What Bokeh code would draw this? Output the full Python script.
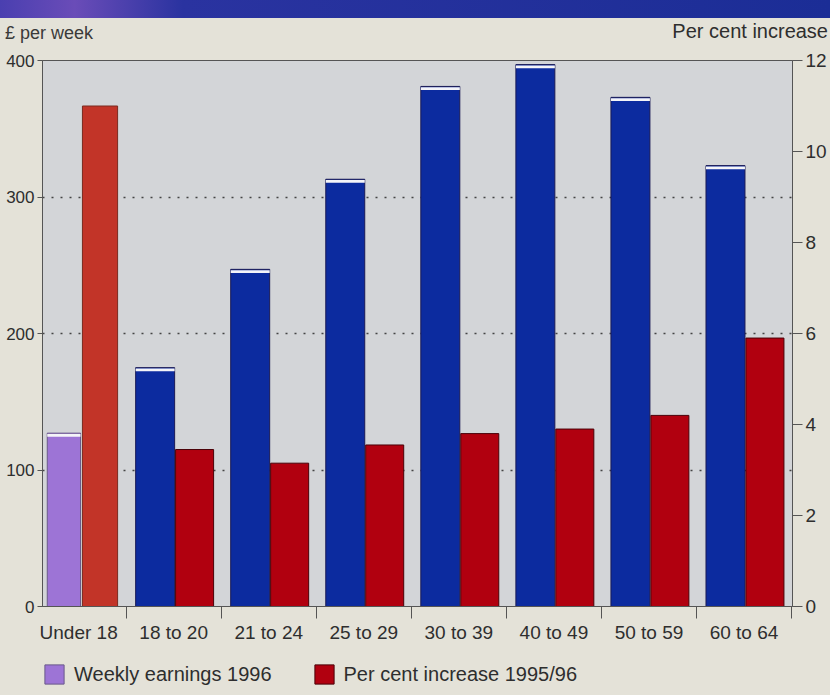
from bokeh.plotting import figure
from bokeh.models import (Range1d, LinearAxis, FixedTicker, Legend, LegendItem,
                          ColumnDataSource, Div)
from bokeh.layouts import column
from bokeh.embed import file_html
from bokeh.resources import INLINE

# ---------------- data ----------------
categories = ["Under 18", "18 to 20", "21 to 24", "25 to 29",
              "30 to 39", "40 to 49", "50 to 59", "60 to 64"]
weekly_earnings_1996 = [127, 175, 247, 313, 381, 397, 373, 323]      # £ per week
pct_increase_1995_96 = [11.0, 3.45, 3.15, 3.55, 3.8, 3.9, 4.2, 5.9]   # per cent
left_ticks = [0, 100, 200, 300, 400]
right_ticks = [0, 2, 4, 6, 8, 10, 12]
grid_ticks = [100, 200, 300]
left_title = "£ per week"
right_title = "Per cent increase"
legend_labels = ["Weekly earnings 1996", "Per cent increase 1995/96"]

# ---------------- style ----------------
FONT = "Liberation Sans"
TXT = "#2e2e2e"
PAPER = "#e4e2d8"
FRAME = "#d3d5d8"
BLUE = "#0c2b9f"
PURPLE = "#9d74d6"
RED = "#b1000f"
RED_U18 = "#c23428"

# bar geometry inside each category slot [i, i+1]
earn_left = [0.17] + [0.10] * 7
earn_width = [0.35] + [0.41] * 7
pct_left = [0.54] + [0.52] * 7
pct_width = [0.37] + [0.40] * 7
earn_colors = [PURPLE] + [BLUE] * 7
earn_lines = ["#6a5a8a"] + ["#1a1a55"] * 7
pct_colors = [RED_U18] + [RED] * 7
pct_lines = ["#7a2a20"] + ["#4a0008"] * 7

n = len(categories)
idx = list(range(n))

earn_src = ColumnDataSource(dict(
    x=[i + l + w / 2 for i, l, w in zip(idx, earn_left, earn_width)],
    w=earn_width, top=weekly_earnings_1996, color=earn_colors, line=earn_lines,
    cap_top=[v - 0.6 for v in weekly_earnings_1996],
    cap_bot=[v - 2.6 for v in weekly_earnings_1996],
))
pct_src = ColumnDataSource(dict(
    x=[i + l + w / 2 for i, l, w in zip(idx, pct_left, pct_width)],
    w=pct_width, top=pct_increase_1995_96, color=pct_colors, line=pct_lines,
))

X_RANGE = (0.12, 8.01)

p = figure(width=830, height=602, output_backend="svg", toolbar_location=None,
           x_range=Range1d(*X_RANGE), y_range=Range1d(0, 400),
           min_border_left=42, min_border_right=38, min_border_top=12, min_border_bottom=44)
p.extra_y_ranges = {"pct": Range1d(0, 12)}
p.background_fill_color = FRAME
p.border_fill_color = PAPER
p.outline_line_color = "#555555"
p.outline_line_width = 1

# grid
p.xgrid.visible = False
p.ygrid.ticker = FixedTicker(ticks=grid_ticks)
p.ygrid.grid_line_color = "#444444"
p.ygrid.grid_line_dash = "2 7"
p.ygrid.grid_line_width = 1.4

# bars
p.vbar(x="x", width="w", top="top", bottom=0, source=earn_src,
       fill_color="color", line_color="line", line_width=1)
p.vbar(x="x", width="w", top="cap_top", bottom="cap_bot", source=earn_src,
       fill_color="#f4f4f8", line_color=None)
p.vbar(x="x", width="w", top="top", bottom=0, source=pct_src,
       fill_color="color", line_color="line", line_width=1, y_range_name="pct")

# left axis
ya = p.yaxis[0]
ya.ticker = FixedTicker(ticks=left_ticks)
ya.major_tick_out = 5
ya.major_tick_in = 0
ya.minor_tick_line_color = None
ya.axis_line_color = "#555555"
ya.major_tick_line_color = "#555555"
ya.major_label_text_font = FONT
ya.major_label_text_font_size = "17px"
ya.major_label_text_color = TXT
ya.major_label_standoff = 3

# right axis
ra = LinearAxis(y_range_name="pct", ticker=FixedTicker(ticks=right_ticks))
ra.major_tick_out = 10
ra.major_tick_in = 0
ra.minor_tick_line_color = None
ra.axis_line_color = "#555555"
ra.major_tick_line_color = "#555555"
ra.major_label_text_font = FONT
ra.major_label_text_font_size = "19px"
ra.major_label_text_color = TXT
ra.major_label_standoff = 3
p.add_layout(ra, "right")

# x axis: labels at slot centres, ticks at slot boundaries
xa = p.xaxis[0]
centres = [i + 0.5 for i in idx]
xa.ticker = FixedTicker(ticks=centres, minor_ticks=[i + 1 for i in idx])
xa.major_label_overrides = {c: lab for c, lab in zip(centres, categories)}
xa.major_tick_line_color = None
xa.major_tick_out = 0
xa.major_tick_in = 0
xa.minor_tick_out = 12
xa.minor_tick_in = 0
xa.minor_tick_line_color = "#555555"
xa.axis_line_color = "#555555"
xa.major_label_text_font = FONT
xa.major_label_text_font_size = "19px"
xa.major_label_text_color = TXT
xa.major_label_standoff = 3

# ---------------- legend strip (own small figure, same data, bars off-range) ----------------
lg = figure(width=830, height=45, output_backend="svg", toolbar_location=None,
            x_range=Range1d(*X_RANGE), y_range=Range1d(1000, 1001),
            x_axis_type=None, y_axis_type=None,
            min_border_left=42, min_border_right=38, min_border_top=0, min_border_bottom=0)
lg.grid.visible = False
lg.outline_line_color = None
lg.background_fill_color = None
lg.border_fill_color = PAPER
sw_earn = lg.vbar(x="x", width="w", top="top", bottom=0, source=earn_src,
                  fill_color="color", line_color="line", line_width=1)
sw_pct = lg.vbar(x="x", width="w", top="top", bottom=0, source=pct_src,
                 fill_color="color", line_color="line", line_width=1)
legend = Legend(items=[
    LegendItem(label=legend_labels[0], renderers=[sw_earn], index=0),
    LegendItem(label=legend_labels[1], renderers=[sw_pct], index=1),
], orientation="horizontal", location=(0, 9))
legend.glyph_width = 24
legend.glyph_height = 24
legend.label_standoff = 8
legend.spacing = 40
legend.padding = 0
legend.margin = 0
legend.border_line_color = None
legend.background_fill_alpha = 0
legend.label_text_font = FONT
legend.label_text_font_size = "20px"
legend.label_text_color = TXT
lg.add_layout(legend, "center")

# ---------------- header: band + axis titles ----------------
header_html = (
    '<div style="position:relative;width:830px;height:48px;background:%s;'
    'font-family:\'%s\',sans-serif;color:%s;">'
    '<div style="position:absolute;left:0;top:0;width:830px;height:18px;'
    'background:linear-gradient(90deg,#4a3fb0 0%%,#6a4cb8 9%%,#2a33a0 22%%,#1b2d96 100%%);"></div>'
    '<span style="position:absolute;left:5px;top:24px;font-size:18px;line-height:18px;'
    'color:#3a3a3a;white-space:nowrap;">%s</span>'
    '<span style="position:absolute;right:2px;top:21px;font-size:20px;line-height:20px;'
    'white-space:nowrap;">%s</span>'
    '</div>'
) % (PAPER, FONT, TXT, left_title, right_title)
header = Div(text=header_html, width=830, height=48, margin=0)

layout = column(header, p, lg, spacing=0, styles={"background": PAPER})
open("out.html", "w").write(file_html(layout, INLINE))
